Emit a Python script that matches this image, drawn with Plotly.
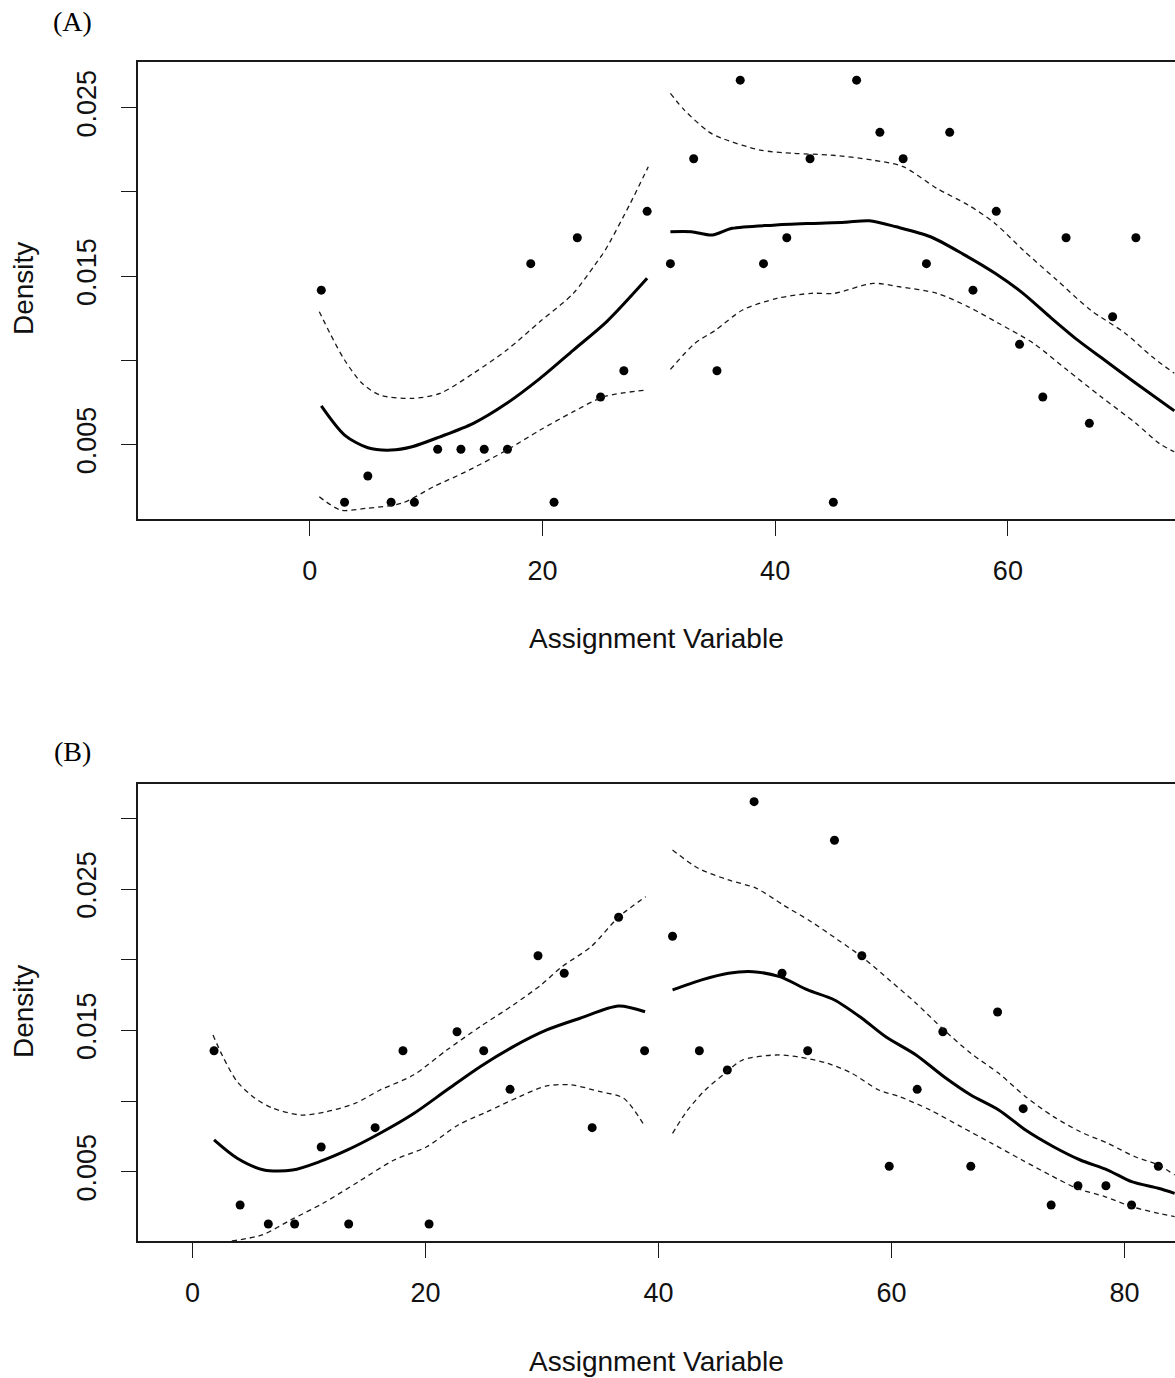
import plotly.graph_objects as go

# ---------------- Panel A data ----------------
a_bin_mid = [1, 3, 5, 7, 9, 11, 13, 15, 17, 19, 21, 23, 25, 27, 29, 31, 33, 35,
             37, 39, 41, 43, 45, 47, 49, 51, 53, 55, 57, 59, 61, 63, 65, 67, 69, 71]
a_bin_density = [0.01417, 0.00157, 0.00313, 0.00157, 0.00157, 0.00472, 0.00472, 0.00472,
                 0.00472, 0.01574, 0.00157, 0.01728, 0.00782, 0.00938, 0.01885, 0.01574,
                 0.02197, 0.00938, 0.02664, 0.01574, 0.01728, 0.02197, 0.00157, 0.02664,
                 0.02354, 0.02197, 0.01574, 0.02354, 0.01417, 0.01885, 0.01095, 0.00782,
                 0.01728, 0.00626, 0.01259, 0.01728]

a_left_fit_x = [1.0, 3.0, 5.0, 7.0, 8.8, 11.2, 14.07, 16.94, 19.8, 22.66, 25.53, 29.0]
a_left_fit = [0.00729, 0.00556, 0.00481, 0.00467, 0.00487, 0.00546, 0.00626, 0.00745,
              0.00893, 0.01061, 0.0123, 0.01487]
a_left_hi_x = [0.83, 1.75, 3.0, 4.5, 6.05, 8.8, 11.2, 14.07, 16.94, 19.8, 22.66, 24.5,
               25.4, 27.55, 29.1]
a_left_hi = [0.01289, 0.0116, 0.01002, 0.00864, 0.00794, 0.00774, 0.00804, 0.00923,
             0.01061, 0.0123, 0.01398, 0.01566, 0.01655, 0.01932, 0.0215]
a_left_lo_x = [0.83, 2.67, 4.82, 7.9, 10.66, 13.4, 16.94, 19.8, 22.66, 25.3, 28.97]
a_left_lo = [0.0019, 0.00111, 0.00121, 0.00151, 0.0025, 0.00338, 0.00467, 0.00586,
             0.00695, 0.00784, 0.00824]

a_right_fit_x = [31.0, 32.8, 34.6, 36.3, 39.85, 43.1, 46.0, 48.1, 50.4, 53.35, 56.3, 58.9,
                 61.3, 63.6, 66.0, 68.3, 71.0, 74.3]
a_right_fit = [0.01764, 0.01764, 0.01744, 0.01784, 0.01803, 0.01813, 0.0182, 0.01829,
               0.01793, 0.01734, 0.01625, 0.01517, 0.01398, 0.01259, 0.0112, 0.01002,
               0.00864, 0.00700]
a_right_hi_x = [31.0, 32.2, 34.3, 35.45, 38.7, 41.6, 44.8, 48.4, 51.0, 53.9, 56.6, 58.9,
                61.3, 64.2, 67.1, 70.1, 72.4, 74.3]
a_right_hi = [0.02586, 0.02486, 0.02357, 0.02318, 0.02249, 0.02229, 0.02219, 0.02189,
              0.0215, 0.02021, 0.01922, 0.01813, 0.01655, 0.01477, 0.01299, 0.0116,
              0.01021, 0.00923]
a_right_lo_x = [31.0, 33.1, 34.9, 37.2, 40.15, 43.1, 45.1, 48.4, 50.7, 53.9, 56.6, 59.2,
                62.2, 65.1, 68.0, 71.0, 73.0, 74.3]
a_right_lo = [0.00946, 0.01101, 0.0118, 0.01299, 0.01368, 0.01398, 0.01398, 0.01457,
              0.01437, 0.01398, 0.01318, 0.0122, 0.01101, 0.00942, 0.00784, 0.00626,
              0.00507, 0.00457]

a_xticks = [0, 20, 40, 60]
a_yticks = [0.005, 0.010, 0.015, 0.020, 0.025]
a_yticktext = ["0.005", "", "0.015", "", "0.025"]

# ---------------- Panel B data ----------------
b_bin_mid = [1.84, 4.08, 6.5, 8.76, 11.04, 13.4, 15.67, 18.06, 20.3, 22.7, 24.99, 27.25,
             29.65, 31.9, 34.3, 36.57, 38.8, 41.2, 43.5, 45.9, 48.2, 50.6, 52.8, 55.1,
             57.45, 59.8, 62.2, 64.4, 66.8, 69.1, 71.3, 73.7, 76.0, 78.4, 80.6, 82.9]
b_bin_density = [0.01356, 0.00265, 0.0013, 0.0013, 0.00675, 0.0013, 0.00812, 0.01356,
                 0.0013, 0.0149, 0.01356, 0.01083, 0.02028, 0.01904, 0.00812, 0.023,
                 0.01356, 0.02166, 0.01356, 0.0122, 0.03118, 0.01904, 0.01356, 0.02845,
                 0.02028, 0.00539, 0.01083, 0.0149, 0.00539, 0.0163, 0.00946, 0.00265,
                 0.00401, 0.00401, 0.00265, 0.00539]

b_left_fit_x = [1.84, 3.83, 6.13, 8.58, 10.9, 13.3, 16.09, 18.95, 21.82, 24.68, 27.53,
                30.4, 33.26, 36.55, 38.84]
b_left_fit = [0.00725, 0.00595, 0.00512, 0.00512, 0.00571, 0.00654, 0.00772, 0.0091,
              0.01078, 0.01243, 0.01385, 0.01503, 0.01586, 0.01673, 0.01632]
b_left_hi_x = [1.75, 2.6, 3.83, 5.36, 6.9, 9.35, 11.5, 13.95, 16.09, 18.95, 21.82, 24.68,
               27.53, 29.9, 31.7, 34.2, 36.6, 38.9]
b_left_hi = [0.01467, 0.01314, 0.01137, 0.0102, 0.00949, 0.00901, 0.00925, 0.00984,
             0.01078, 0.01184, 0.01361, 0.01526, 0.0168, 0.01821, 0.0195, 0.02092,
             0.02304, 0.02446]
b_left_lo_x = [3.37, 5.97, 8.43, 11.2, 14.25, 17.3, 20.1, 22.8, 25.3, 28.05, 30.4, 32.5,
               35.0, 37.0, 38.8]
b_left_lo = [0.0001, 0.00053, 0.00159, 0.00277, 0.0043, 0.00583, 0.00677, 0.00831,
             0.00925, 0.01031, 0.01107, 0.01114, 0.01066, 0.0102, 0.00824]

b_right_fit_x = [41.2, 43.7, 46.0, 48.1, 50.4, 52.8, 55.1, 57.45, 59.5, 62.1, 64.5, 66.8,
                 69.2, 71.5, 73.9, 76.2, 78.55, 80.6, 82.9, 84.3]
b_right_fit = [0.01786, 0.01857, 0.01904, 0.01915, 0.0188, 0.01786, 0.01715, 0.01586,
               0.01455, 0.01326, 0.01172, 0.01043, 0.00937, 0.00795, 0.00677, 0.00583,
               0.00512, 0.0043, 0.00383, 0.00347]
b_right_hi_x = [41.2, 43.4, 46.0, 48.4, 50.7, 53.1, 55.4, 57.45, 59.8, 62.1, 64.5, 66.8,
                69.2, 71.5, 73.9, 76.2, 78.55, 80.9, 82.9, 84.3]
b_right_hi = [0.02776, 0.02647, 0.02564, 0.02505, 0.02387, 0.02269, 0.0214, 0.02021,
              0.01857, 0.01692, 0.01503, 0.01338, 0.01196, 0.01031, 0.0089, 0.00783,
              0.00701, 0.00606, 0.00548, 0.00477]
b_right_lo_x = [41.2, 42.5, 44.0, 45.7, 47.2, 50.1, 52.2, 54.5, 56.6, 58.9, 60.7, 63.3,
                65.95, 68.6, 71.2, 73.6, 75.9, 78.3, 80.6, 82.9, 84.3]
b_right_lo = [0.00772, 0.00937, 0.01078, 0.01196, 0.0129, 0.01326, 0.0131, 0.01267,
              0.01196, 0.01078, 0.01031, 0.00937, 0.00819, 0.00701, 0.00583, 0.00477,
              0.00383, 0.00324, 0.00253, 0.00206, 0.00182]

b_xticks = [0, 20, 40, 60, 80]
b_yticks = [0.005, 0.010, 0.015, 0.020, 0.025, 0.030]
b_yticktext = ["0.005", "", "0.015", "", "0.025", ""]

x_title = "Assignment Variable"
y_title = "Density"
panel_labels = ["(A)", "(B)"]

# ---------------- Figure ----------------
W, H = 1175, 1378
ML = 138
INK = "#1a1a1a"
SANS = "Liberation Sans, Arial, sans-serif"
SERIF = "Liberation Serif, Times New Roman, serif"

fig = go.Figure()


def add_panel(xa, ya, bx, by, curves):
    fig.add_trace(go.Scatter(x=bx, y=by, mode="markers", xaxis=xa, yaxis=ya,
                             marker=dict(size=9, color="black"), showlegend=False,
                             hoverinfo="skip"))
    for cx, cy, kind in curves:
        if kind == "fit":
            line = dict(color="black", width=3, shape="spline", smoothing=0.8)
        else:
            line = dict(color=INK, width=1.3, dash="5px,4px", shape="spline", smoothing=0.8)
        fig.add_trace(go.Scatter(x=cx, y=cy, mode="lines", xaxis=xa, yaxis=ya,
                                 line=line, showlegend=False, hoverinfo="skip"))


add_panel("x", "y", a_bin_mid, a_bin_density, [
    (a_left_fit_x, a_left_fit, "fit"), (a_left_hi_x, a_left_hi, "ci"), (a_left_lo_x, a_left_lo, "ci"),
    (a_right_fit_x, a_right_fit, "fit"), (a_right_hi_x, a_right_hi, "ci"), (a_right_lo_x, a_right_lo, "ci"),
])
add_panel("x2", "y2", b_bin_mid, b_bin_density, [
    (b_left_fit_x, b_left_fit, "fit"), (b_left_hi_x, b_left_hi, "ci"), (b_left_lo_x, b_left_lo, "ci"),
    (b_right_fit_x, b_right_fit, "fit"), (b_right_hi_x, b_right_hi, "ci"), (b_right_lo_x, b_right_lo, "ci"),
])


def xaxis_style(rng, ticks, anchor):
    return dict(range=rng, tickvals=ticks, ticktext=[str(t) for t in ticks],
                ticks="outside", ticklen=15, tickwidth=1.3, tickcolor=INK,
                showline=True, linecolor=INK, linewidth=1.5, mirror=True,
                showgrid=False, zeroline=False, anchor=anchor,
                tickfont=dict(family=SANS, size=27, color="#111"),
                ticklabelstandoff=12, domain=[0, 1])


def yaxis_style(rng, ticks, text, dom, anchor):
    return dict(range=rng, tickvals=ticks, ticktext=text, tickangle=-90,
                ticks="outside", ticklen=15, tickwidth=1.3, tickcolor=INK,
                showline=True, linecolor=INK, linewidth=1.5, mirror=False,
                showgrid=False, zeroline=False, anchor=anchor, domain=dom,
                tickfont=dict(family=SANS, size=27, color="#111"),
                ticklabelstandoff=14)


fig.update_layout(
    width=W, height=H,
    margin=dict(l=ML, r=0, t=0, b=0),
    paper_bgcolor="white", plot_bgcolor="white",
    xaxis=xaxis_style([-14.75, 74.36], a_xticks, "y"),
    yaxis=yaxis_style([0.00056, 0.0277], a_yticks, a_yticktext,
                      [1 - 519.3 / H, 1 - 62.3 / H], "x"),
    xaxis2=xaxis_style([-4.686, 84.33], b_xticks, "y2"),
    yaxis2=yaxis_style([0.0001, 0.03243], b_yticks, b_yticktext,
                       [1 - 1241 / H, 1 - 784 / H], "x2"),
)


def pxx(xp):
    return (xp - ML) / (W - ML)


annotations = []
for lab, ycen in zip(panel_labels, [22, 751]):
    annotations.append(dict(text=lab, x=pxx(72), y=1 - ycen / H, xref="paper", yref="paper",
                            xanchor="center", yanchor="middle", showarrow=False,
                            font=dict(family=SERIF, size=28, color="black")))
for ycen in [638, 1361]:
    annotations.append(dict(text=x_title, x=pxx(656), y=1 - ycen / H,
                            xref="paper", yref="paper", xanchor="center", yanchor="middle",
                            showarrow=False, font=dict(family=SANS, size=28, color="#111")))
for ycen in [289, 1012]:
    annotations.append(dict(text=y_title, x=pxx(23), y=1 - ycen / H,
                            xref="paper", yref="paper", xanchor="center", yanchor="middle",
                            textangle=-90, showarrow=False,
                            font=dict(family=SANS, size=28, color="#111")))
fig.update_layout(annotations=annotations)

fig.write_html("out.html")
